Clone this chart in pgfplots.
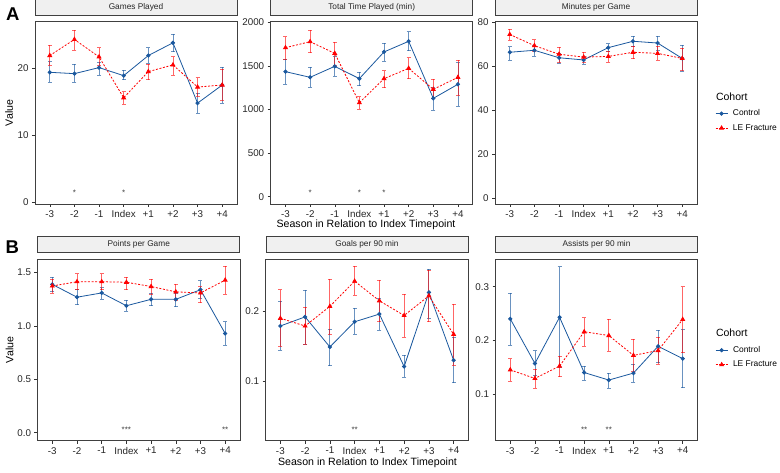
\documentclass[border=0pt]{standalone}
\usepackage{pgfplots}
\pgfplotsset{compat=1.18}
\usepackage{pgfplotstable}
\usepackage{fontspec}
\setmainfont{Liberation Sans}
\definecolor{ctrl}{RGB}{26,88,158}
\definecolor{lef}{RGB}{255,0,0}
\definecolor{stripfill}{RGB}{240,240,240}

% ---------- data: x  y  lo  hi ----------
\pgfplotstableread{
x y lo hi
0 19.4 17.9 21.0
1 19.2 17.9 20.6
2 20.1 19.0 20.9
3 18.9 18.3 19.7
4 21.9 20.8 23.1
5 23.8 22.5 25.1
6 14.8 13.3 16.3
7 17.5 14.8 20.2
}\gpC
\pgfplotstableread{
x y lo hi
0 21.9 20.5 23.4
1 24.3 22.7 25.7
2 21.7 20.5 23.1
3 15.6 14.6 16.5
4 19.5 18.3 20.6
5 20.5 19.0 21.7
6 17.2 15.8 18.6
7 17.5 15.2 19.9
}\gpL
\pgfplotstableread{
x y lo hi
0 1434 1293 1576
1 1369 1254 1484
2 1495 1384 1606
3 1354 1273 1426
4 1660 1556 1759
5 1782 1675 1893
6 1128 994 1254
7 1289 1040 1537
}\ttC
\pgfplotstableread{
x y lo hi
0 1709 1576 1836
1 1778 1652 1912
2 1644 1510 1774
3 1078 1002 1147
4 1354 1250 1446
5 1472 1354 1595
6 1231 1132 1346
7 1369 1166 1568
}\ttL
\pgfplotstableread{
x y lo hi
0 66.4 62.9 68.9
1 67.3 64.7 69.5
2 63.9 61.4 66.1
3 62.9 61.1 64.4
4 68.5 66.7 70.3
5 71.4 68.9 73.6
6 70.6 67.4 73.6
7 63.6 57.9 69.5
}\mpC
\pgfplotstableread{
x y lo hi
0 74.5 71.8 76.8
1 69.4 66.7 72.1
2 65.5 61.8 68.6
3 64.2 62.0 66.4
4 64.5 61.8 67.0
5 66.4 63.5 69.1
6 65.9 62.7 69.1
7 63.6 58.3 68.2
}\mpL
\pgfplotstableread{
x y lo hi
0 1.39 1.32 1.46
1 1.27 1.20 1.34
2 1.31 1.25 1.36
3 1.19 1.14 1.24
4 1.25 1.19 1.31
5 1.25 1.18 1.31
6 1.34 1.26 1.425
7 0.93 0.82 1.04
}\ppC
\pgfplotstableread{
x y lo hi
0 1.375 1.31 1.44
1 1.415 1.34 1.49
2 1.415 1.34 1.49
3 1.41 1.34 1.46
4 1.37 1.30 1.44
5 1.32 1.24 1.39
6 1.31 1.22 1.37
7 1.43 1.30 1.56
}\ppL
\pgfplotstableread{
x y lo hi
0 0.179 0.144 0.214
1 0.192 0.153 0.230
2 0.149 0.122 0.174
3 0.185 0.167 0.204
4 0.196 0.173 0.218
5 0.121 0.106 0.137
6 0.227 0.190 0.260
7 0.130 0.098 0.163
}\glC
\pgfplotstableread{
x y lo hi
0 0.190 0.150 0.231
1 0.179 0.153 0.206
2 0.207 0.167 0.246
3 0.243 0.223 0.264
4 0.215 0.185 0.244
5 0.194 0.163 0.224
6 0.222 0.185 0.259
7 0.167 0.123 0.210
}\glL
\pgfplotstableread{
x y lo hi
0 0.240 0.191 0.288
1 0.157 0.134 0.181
2 0.243 0.149 0.337
3 0.140 0.126 0.152
4 0.126 0.111 0.139
5 0.139 0.122 0.155
6 0.189 0.158 0.219
7 0.166 0.112 0.220
}\asC
\pgfplotstableread{
x y lo hi
0 0.145 0.124 0.166
1 0.129 0.111 0.146
2 0.152 0.132 0.171
3 0.216 0.189 0.242
4 0.209 0.180 0.239
5 0.172 0.143 0.202
6 0.181 0.155 0.206
7 0.239 0.177 0.300
}\asL

\pgfplotsset{
  panel/.style={
    scale only axis, width=202pt, anchor=south west,
    xmin=-0.6, xmax=7.6, xtick={0,...,7},
    xticklabels={-3,-2,-1,Index,+1,+2,+3,+4},
    tick pos=left, tick align=outside, major tick length=3pt,
    major tick style={black!80, line width=0.5pt},
    axis line style={black!75, line width=0.7pt},
    ticklabel style={font=\fontsize{9.8}{10}\selectfont, text=black!85},
    /pgf/number format/assume math mode=true,
    /pgf/number format/set thousands separator={},
    title style={at={(0.5,1)}, anchor=south, draw=black!75, line width=0.6pt,
      fill=stripfill, minimum width=202pt, minimum height=16.6pt, inner sep=0pt,
      font=\fontsize{8.3}{9}\selectfont, text=black!85},
    ylabel style={font=\fontsize{10.6}{11}\selectfont, at={(axis description cs:-0.128,0.5)}, anchor=center},
    clip=false,
    legend cell align=left,
    legend image code/.code={%
      \draw[mark repeat=2,mark phase=2,##1]
      plot coordinates {(0pt,0pt) (6pt,0pt) (12pt,0pt)};},
    legend style={draw=none, fill=none, inner sep=0pt, column sep=5pt, row sep=7pt,
      font=\fontsize{8.4}{9}\selectfont, anchor=west,
      nodes={inner sep=0pt, text height=6pt, text depth=1.5pt, anchor=west}},
  },
  ctrlplot/.style={color=ctrl, line width=0.8pt, mark=*, mark size=1.7pt,
    mark options={solid, fill=ctrl},
    error bars/y dir=both, error bars/y explicit,
    error bars/error bar style={line width=0.8pt, opacity=0.65, solid},
    error bars/error mark=|,
    error bars/error mark options={line width=0.8pt, mark size=2pt, solid, opacity=0.65}},
  lefplot/.style={color=lef, line width=0.8pt, dash pattern=on 2pt off 1.6pt,
    mark=triangle*, mark size=2.2pt, mark options={solid, fill=lef},
    error bars/y dir=both, error bars/y explicit,
    error bars/error bar style={line width=0.8pt, opacity=0.6, solid},
    error bars/error mark=|,
    error bars/error mark options={line width=0.8pt, mark size=2pt, solid, opacity=0.6}},
}
\newcommand{\ser}[2]{\addplot[#1] table[x=x, y=y,
  y error plus expr=\thisrow{hi}-\thisrow{y},
  y error minus expr=\thisrow{y}-\thisrow{lo}] {#2};}
\newcommand{\sig}[3][]{\node[font=\fontsize{8}{8}\selectfont, text=black!75, anchor=base, yshift=-4.6pt] at (axis cs:#2,#3) {#1};}

\begin{document}
\begin{tikzpicture}
\useasboundingbox (0,0) rectangle (780pt,472pt);

% ================= Row A =================
\begin{axis}[panel, at={(35pt,268pt)}, height=182.3pt,
  ymin=-0.25, ymax=26.95, ytick={0,10,20}, title={Games Played}, ylabel={Value}]
\ser{ctrlplot}{\gpC}
\ser{lefplot}{\gpL}
\sig[*]{1}{1.73}
\sig[*]{3}{1.73}
\end{axis}

\begin{axis}[panel, at={(270.7pt,268pt)}, height=182.3pt,
  ymin=-84, ymax=2007, ytick={0,500,1000,1500,2000}, title={Total Time Played (min)}]
\ser{ctrlplot}{\ttC}
\ser{lefplot}{\ttL}
\sig[*]{1}{69}
\sig[*]{3}{69}
\sig[*]{4}{69}
\end{axis}

\begin{axis}[panel, at={(495pt,268pt)}, height=182.3pt,
  ymin=-2.6, ymax=80.3, ytick={0,20,40,60,80}, title={Minutes per Game},
  legend style={at={(axis description cs:1.089,0.456)}}]
\ser{ctrlplot}{\mpC}
\addlegendentry{Control}
\ser{lefplot}{\mpL}
\addlegendentry{LE Fracture}
\end{axis}

\node[anchor=west, font=\fontsize{10.5}{11}\selectfont] at (712.5pt,375.3pt) {Cohort};
\node[anchor=center, font=\fontsize{10.6}{11}\selectfont] at (366pt,247pt) {Season in Relation to Index Timepoint};
\node[anchor=base west, font=\bfseries\fontsize{18.5}{19}\selectfont] at (2.5pt,451.3pt) {A};

% ================= Row B =================
\begin{axis}[panel, at={(37.5pt,31.3pt)}, height=181.7pt, width=202.5pt,
  ymin=-0.075, ymax=1.628, ytick={0,0.5,1,1.5}, title={Points per Game}, ylabel={Value},
  yticklabel style={/pgf/number format/.cd, fixed, fixed zerofill, precision=1},
  ylabel style={at={(axis description cs:-0.138,0.5)}}]
\ser{ctrlplot}{\ppC}
\ser{lefplot}{\ppL}
\sig[***]{3}{0.044}
\sig[**]{7}{0.044}
\end{axis}

\begin{axis}[panel, at={(265.5pt,31.3pt)}, height=181.7pt, width=203pt,
  ymin=0.0151, ymax=0.2747, ytick={0.1,0.2}, title={Goals per 90 min},
  yticklabel style={/pgf/number format/.cd, fixed, precision=1}]
\ser{ctrlplot}{\glC}
\ser{lefplot}{\glL}
\sig[**]{3}{0.0333}
\end{axis}

\begin{axis}[panel, at={(495.5pt,31.3pt)}, height=181.7pt,
  ymin=0.013, ymax=0.3516, ytick={0.1,0.2,0.3}, title={Assists per 90 min},
  yticklabel style={/pgf/number format/.cd, fixed, precision=1},
  legend style={at={(axis description cs:1.087,0.458)}}]
\ser{ctrlplot}{\asC}
\addlegendentry{Control}
\ser{lefplot}{\asL}
\addlegendentry{LE Fracture}
\sig[**]{3}{0.0367}
\sig[**]{4}{0.0367}
\end{axis}

\node[anchor=west, font=\fontsize{10.5}{11}\selectfont] at (712.5pt,139.3pt) {Cohort};
\node[anchor=center, font=\fontsize{10.6}{11}\selectfont] at (367.5pt,9pt) {Season in Relation to Index Timepoint};
\node[anchor=base west, font=\bfseries\fontsize{18.5}{19}\selectfont] at (2pt,218pt) {B};
\end{tikzpicture}
\end{document}
